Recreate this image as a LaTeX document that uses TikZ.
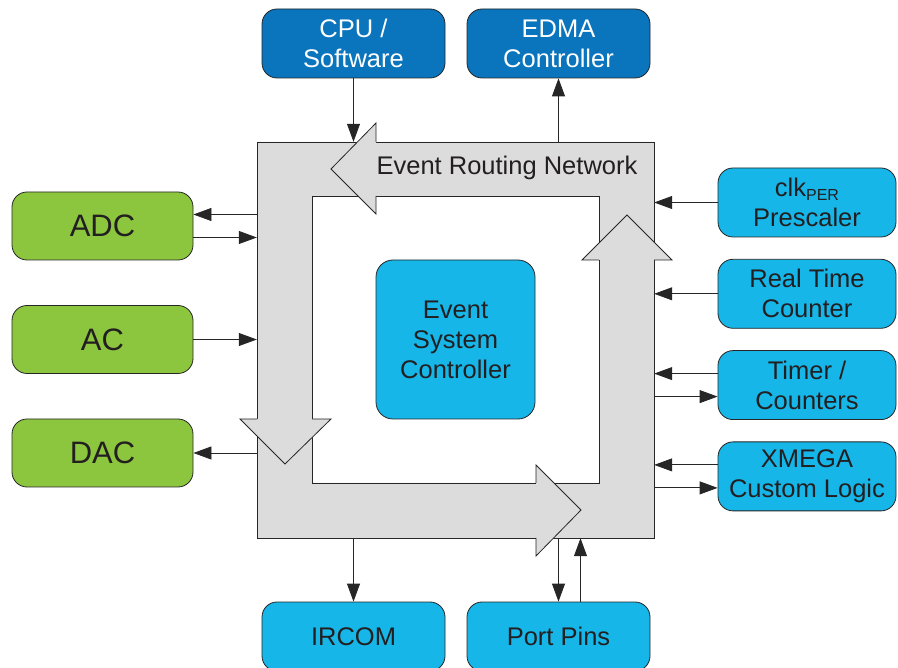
\documentclass[tikz,border=0pt]{standalone}
\usepackage{fontspec}
\setmainfont{Liberation Sans}
\usetikzlibrary{arrows.meta}
\usetikzlibrary{positioning}
\definecolor{dkblue}{RGB}{10,117,189}
\definecolor{ltblue}{RGB}{22,182,232}
\definecolor{anagreen}{RGB}{140,198,63}
\definecolor{netgray}{RGB}{220,220,220}
\definecolor{txtcol}{RGB}{35,31,32}
\tikzset{
  blk/.style={draw=black!85,line width=0.8pt,rounded corners=15pt,minimum width=183pt,minimum height=69pt,
    inner sep=0pt,align=center,text=txtcol,font=\fontsize{25.5}{30}\selectfont},
  cpublk/.style={blk,fill=dkblue,text=white},
  perblk/.style={blk,fill=ltblue,minimum width=178pt},
  anablk/.style={blk,fill=anagreen,minimum width=181pt,minimum height=68pt,font=\fontsize{31}{36}\selectfont},
  arr/.style={-{Triangle[length=18pt,width=13pt]},line width=0.8pt,draw=black!85},
  netline/.style={line width=0.8pt,draw=black!85}
}
\begin{document}
\begin{tikzpicture}[x=1pt,y=-1pt,node distance=91.3pt]
  \useasboundingbox (0,0) rectangle (898,668);

  \fill[netgray,even odd rule](257,142) rectangle (654,538) (312,196) rectangle (599,483);
  \draw[netline](257,142) rectangle (654,538) (312,196) rectangle (599,483);
  \node[minimum width=397pt,minimum height=396pt,inner sep=0pt] (net) at (455.5,340){};

  \fill[netgray](376,123)--(331,169)--(376,214)--cycle;
  \draw[netline](376,142)--(376,123)--(331,169)--(376,214)--(376,196);
  \fill[netgray](240,419)--(285,464)--(331,419)--cycle;
  \draw[netline](257,419)--(240,419)--(285,464)--(331,419)--(312,419);
  \fill[netgray](536,465)--(581,510)--(536,556)--cycle;
  \draw[netline](536,483)--(536,465)--(581,510)--(536,556)--(536,538);
  \fill[netgray](582,260)--(627,215)--(672,260)--cycle;
  \draw[netline](599,260)--(582,260)--(627,215)--(672,260)--(654,260);

  \node[text=txtcol,font=\fontsize{25.5}{30}\selectfont] (netlbl) at (507,167.5){Event Routing Network};
  \node[perblk,minimum width=159pt,minimum height=159pt,rounded corners=17pt] (esc) at (455.5,339.5){Event\\System\\Controller};

  \node[cpublk] (cpu) at (353.5,43.5){CPU /\\Software};
  \node[cpublk] (edma) at (558.5,43.5){EDMA\\Controller};
  \node[perblk,minimum width=183pt] (ircom) at (353.5,636.5){IRCOM};
  \node[perblk,minimum width=183pt] (port) at (558.5,636.5){Port Pins};

  \node[anablk] (adc) at (102.5,226){ADC};
  \node[anablk,below of=adc,node distance=113.5pt] (ac){AC};
  \node[anablk,below of=ac,node distance=113.5pt] (dac){DAC};

  \node[perblk] (clk) at (807,202.5){clk{\fontsize{16}{16}\selectfont\raisebox{-4pt}{PER}}\\Prescaler};
  \node[perblk,below of=clk] (rtc){Real Time\\Counter};
  \node[perblk,below of=rtc] (tc){Timer /\\Counters};
  \node[perblk,below of=tc] (xcl){XMEGA\\Custom Logic};

  \draw[arr](cpu.south)--(cpu.south |- net.north);
  \draw[arr](edma.south |- net.north)--(edma.south);
  \draw[arr](ircom.north |- net.south)--(ircom.north);
  \draw[arr](port.north |- net.south)--(port.north);
  \draw[arr]([xshift=22pt]port.north)--([xshift=22pt]port.north |- net.south);

  \draw[arr]([yshift=11.5pt]adc.east -| net.west)--([yshift=11.5pt]adc.east);
  \draw[arr]([yshift=-11.5pt]adc.east)--([yshift=-11.5pt]adc.east -| net.west);
  \draw[arr](ac.east)--(ac.east -| net.west);
  \draw[arr](dac.east -| net.west)--(dac.east);

  \draw[arr](clk.west)--(clk.west -| net.east);
  \draw[arr](rtc.west)--(rtc.west -| net.east);
  \draw[arr]([yshift=11.5pt]tc.west)--([yshift=11.5pt]tc.west -| net.east);
  \draw[arr]([yshift=-11.5pt]tc.west -| net.east)--([yshift=-11.5pt]tc.west);
  \draw[arr]([yshift=11.5pt]xcl.west)--([yshift=11.5pt]xcl.west -| net.east);
  \draw[arr]([yshift=-11.5pt]xcl.west -| net.east)--([yshift=-11.5pt]xcl.west);
\end{tikzpicture}
\end{document}
